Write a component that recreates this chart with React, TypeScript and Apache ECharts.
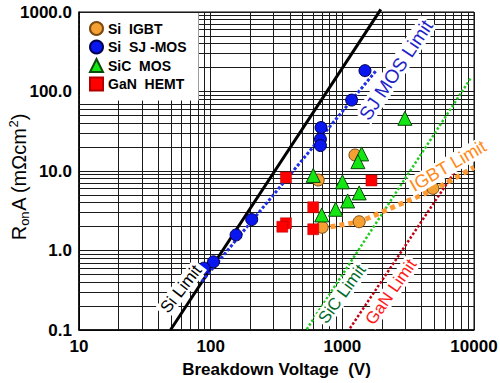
import React, { useEffect, useRef } from 'react';
import * as echarts from 'echarts';

// Axis decades (tick labels) and minor-grid multipliers
const xDecades = [10, 100, 1000, 10000];
const yDecades = [0.1, 1, 10, 100, 1000];
const minorMults = [2, 3, 4, 5, 6, 7, 8, 9];

// Measured devices: breakdown voltage (V) and RonA (mOhm cm2)
const igbtV = [1247, 656, 1343, 703, 4875];
const igbtR = [15.9, 7.7, 2.3, 1.96, 6.05];

const sjV = [1486, 1177, 689, 682, 682, 205, 156, 105, 89];
const sjR = [183, 78, 35.2, 25.1, 20.9, 2.45, 1.57, 0.72, 0.6];

const sicV = [2985, 1402, 1313, 601, 1002, 1343, 1097, 889, 697];
const sicR = [46, 16.4, 13.1, 8.8, 7.3, 5.3, 4.2, 3.3, 2.8];

const ganV = [373, 1664, 601, 373, 350, 601];
const ganR = [8.3, 7.6, 3.5, 2.2, 1.99, 1.85];

// Material limit lines
const siLimitV = [49.5, 1960];
const siLimitR = [0.1, 1080];
const sjLimitV = [85.5, 1820];
const sjLimitR = [0.406, 186];
const sicLimitV = [536, 9590];
const sicLimitR = [0.102, 153];
const ganLimitV = [1143, 10000];
const ganLimitR = [0.105, 22.5];
const igbtLimitV = [697, 1361, 2168, 5200, 10000];
const igbtLimitR = [1.9, 2.3, 3.23, 6.05, 11.1];

const legendNames = ['Si  IGBT', 'Si  SJ -MOS', 'SiC  MOS', 'GaN  HEMT'];

const FONT = 'Arial, "Liberation Sans", Helvetica, sans-serif';

const pairs = (xs: number[], ys: number[]) => xs.map((x, i) => [x, ys[i]]);

const minorOf = (decades: number[]) =>
  decades.slice(0, -1).flatMap((d) => minorMults.map((m) => d * m));

const limitLabel = (
  text: string,
  x: number,
  y: number,
  angleDeg: number,
  color: string,
  size: number,
  w: number,
) => ({
  type: 'group',
  x,
  y,
  rotation: (angleDeg * Math.PI) / 180,
  z: 20,
  children: [
    {
      type: 'rect',
      z: 20,
      shape: { x: -w / 2, y: -size * 0.52, width: w, height: size * 1.04 },
      style: { fill: '#fff' },
    },
    {
      type: 'text',
      z: 21,
      style: {
        text,
        align: 'center',
        verticalAlign: 'middle',
        font: `${size}px ${FONT}`,
        fill: color,
      },
    },
  ],
});

export default function App() {
  const ref = useRef<HTMLDivElement>(null);

  useEffect(() => {
    document.body.style.margin = '0';
    const chart = echarts.init(ref.current!, null, { renderer: 'svg' });

    const gridColor = '#1a1a1a';
    const minorLines = [
      ...minorOf(xDecades).map((v) => ({ xAxis: v })),
      ...minorOf(yDecades).map((v) => ({ yAxis: v })),
    ];

    const limitLine = (name: string, data: number[][], color: string, width: number, type: any, extra: any = {}) => ({
      name,
      type: 'line',
      data,
      showSymbol: false,
      symbol: 'none',
      silent: true,
      z: 2,
      lineStyle: { color, width, type, cap: 'butt' },
      ...extra,
    });

    const option: any = {
      animation: false,
      backgroundColor: '#fff',
      grid: {
        left: 79,
        right: 26,
        top: 12,
        bottom: 53,
        show: true,
        borderColor: '#000',
        borderWidth: 1,
        backgroundColor: 'transparent',
        outerBoundsMode: 'none',
      },
      legend: {
        data: legendNames,
        orient: 'vertical',
        left: 80,
        top: 13,
        z: 6,
        backgroundColor: '#fff',
        padding: [8, 12, 9, 9],
        itemWidth: 13,
        itemHeight: 13,
        itemGap: 3.5,
        selectedMode: false,
        textStyle: { fontFamily: FONT, fontWeight: 'bold', fontSize: 14, color: '#000' },
      },
      xAxis: {
        type: 'log',
        logBase: 10,
        min: 10,
        max: 10000,
        name: 'Breakdown Voltage  (V)',
        nameLocation: 'middle',
        nameGap: 31,
        nameTextStyle: { fontFamily: FONT, fontWeight: 'bold', fontSize: 17, color: '#000' },
        axisLine: { lineStyle: { color: '#000', width: 1.5 } },
        axisTick: { show: false },
        axisLabel: {
          fontFamily: FONT,
          fontWeight: 'bold',
          fontSize: 17,
          color: '#000',
          margin: 8,
          formatter: (v: number) => String(Math.round(v)),
        },
        splitLine: { show: true, lineStyle: { color: gridColor, width: 1 } },
      },
      yAxis: {
        type: 'log',
        logBase: 10,
        min: 0.1,
        max: 1000,
        axisLine: { show: true, lineStyle: { color: '#000', width: 1.5 } },
        axisTick: { show: false },
        axisLabel: {
          fontFamily: FONT,
          fontWeight: 'bold',
          fontSize: 17,
          color: '#000',
          margin: 7,
          formatter: (v: number) => v.toFixed(1),
        },
        splitLine: { show: true, lineStyle: { color: gridColor, width: 1 } },
      },
      series: [
        {
          name: 'grid',
          type: 'line',
          data: [],
          silent: true,
          z: 1,
          markLine: {
            z: 1,
            silent: true,
            symbol: ['none', 'none'],
            label: { show: false },
            emphasis: { disabled: true },
            lineStyle: { color: gridColor, width: 1, type: 'solid' },
            data: minorLines,
          },
        },
        limitLine('Si Limit', pairs(siLimitV, siLimitR), '#000', 3, 'solid', { clip: false }),
        limitLine('SJ MOS Limit', pairs(sjLimitV, sjLimitR), '#1f2fe6', 3, [3, 2]),
        limitLine('SiC Limit', pairs(sicLimitV, sicLimitR), '#22cc22', 2.5, [2.5, 2]),
        limitLine('GaN Limit', pairs(ganLimitV, ganLimitR), '#c00010', 2.5, [2.5, 2]),
        limitLine('IGBT Limit', pairs(igbtLimitV, igbtLimitR), '#ff9a33', 5, [5, 4]),
        {
          name: legendNames[0],
          type: 'scatter',
          data: pairs(igbtV, igbtR),
          symbol: 'circle',
          symbolSize: 12,
          z: 4,
          itemStyle: { color: '#f5a033', borderColor: '#7a4a10', borderWidth: 1, opacity: 1 },
        },
        {
          name: legendNames[1],
          type: 'scatter',
          data: pairs(sjV, sjR),
          symbol: 'circle',
          symbolSize: 12,
          z: 4,
          itemStyle: { color: '#0a16f0', borderColor: '#000050', borderWidth: 1, opacity: 1 },
        },
        {
          name: legendNames[2],
          type: 'scatter',
          data: pairs(sicV, sicR),
          symbol: 'triangle',
          symbolSize: 14,
          z: 4,
          itemStyle: { color: '#14e614', borderColor: '#0a4a0a', borderWidth: 1, opacity: 1 },
        },
        {
          name: legendNames[3],
          type: 'scatter',
          data: pairs(ganV, ganR),
          symbol: 'rect',
          symbolSize: 11,
          z: 4,
          itemStyle: { color: '#ff0000', borderColor: '#b00000', borderWidth: 0.5, opacity: 1 },
        },
      ],
      graphic: [
        {
          type: 'text',
          x: 19,
          y: 177,
          rotation: Math.PI / 2,
          z: 20,
          style: {
            text: '{m|R}{s|on}{m|A (mΩcm}{p|2}{m|)}',
            align: 'center',
            verticalAlign: 'middle',
            fill: '#000',
            rich: {
              m: { fontFamily: FONT, fontSize: 20, lineHeight: 24, fill: '#000' },
              s: { fontFamily: FONT, fontSize: 13, lineHeight: 13, verticalAlign: 'bottom', fill: '#000' },
              p: { fontFamily: FONT, fontSize: 13, lineHeight: 13, verticalAlign: 'top', fill: '#000' },
            },
          },
        },
        limitLabel('Si Limit', 181, 289, 52, '#000', 17, 62),
        limitLabel('SJ MOS Limit', 396, 70, 56, '#1f1fc8', 19, 118),
        limitLabel('SiC Limit', 342, 294, 54, '#006a2a', 17, 72),
        limitLabel('GaN Limit', 391, 292, 55, '#ff1a1a', 17, 80),
        limitLabel('IGBT Limit', 448, 166, 30, '#ff8a1a', 18, 90),
      ],
    };

    chart.setOption(option);
    return () => chart.dispose();
  }, []);

  return (
    <div
      ref={ref}
      style={{ position: 'absolute', left: 0, top: 0, width: 500, height: 383, background: '#fff' }}
    />
  );
}
